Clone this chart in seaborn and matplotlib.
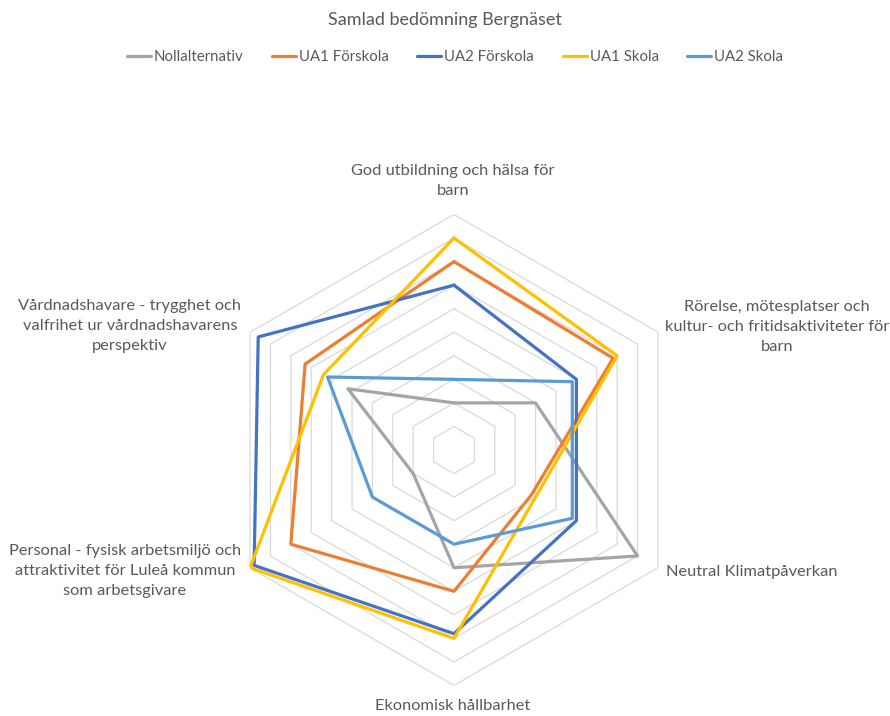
import numpy as np
import pandas as pd
import matplotlib
matplotlib.use("Agg")
import matplotlib.pyplot as plt
import seaborn as sns

# criteria, clockwise from the top
categories = [
    "God utbildning och hälsa för\nbarn",
    "Rörelse, mötesplatser och\nkultur- och fritidsaktiviteter för\nbarn",
    "Neutral Klimatpåverkan",
    "Ekonomisk hållbarhet",
    "Personal - fysisk arbetsmiljö och\nattraktivitet för Luleå kommun\nsom arbetsgivare",
    "Vårdnadshavare - trygghet och\nvalfrihet ur vårdnadshavarens\nperspektiv",
]

series_names = ["Nollalternativ", "UA1 Förskola", "UA2 Förskola", "UA1 Skola", "UA2 Skola"]
nollalternativ = [2, 4, 9, 5, 2, 5.2]
ua1_forskola = [8, 7.8, 3.8, 6, 8, 7.3]
ua2_forskola = [7, 6, 6, 7.8, 9.8, 9.6]
ua1_skola = [9, 8, 4, 8, 10, 6.4]
ua2_skola = [3, 5.8, 5.8, 4, 4, 6.2]
colors = ["#A5A5A5", "#ED7D31", "#4472C4", "#FFC000", "#5B9BD5"]

rings = list(range(1, 11))

text_color = "#595959"

sns.set_theme(style="white")
plt.rcParams["font.family"] = ["Lato", "DejaVu Sans"]

n = len(categories)
angles = np.linspace(0, 2 * np.pi, n, endpoint=False)
closed = np.append(angles, 2 * np.pi)

rows = []
for name, vals in zip(series_names, [nollalternativ, ua1_forskola, ua2_forskola, ua1_skola, ua2_skola]):
    vals = list(vals) + [vals[0]]
    for th, v in zip(closed, vals):
        rows.append({"theta": th, "value": v, "serie": name})
df = pd.DataFrame(rows)

fig = plt.figure(figsize=(8.9, 7.16), dpi=100)
W, H = 890, 716
cx, cy, R = 454, 450, 235.5
ax = fig.add_axes([(cx - R) / W, (H - cy - R) / H, 2 * R / W, 2 * R / H], projection="polar")
ax.set_theta_offset(np.pi / 2)
ax.set_theta_direction(-1)
ax.set_ylim(0, 10)
ax.grid(False)
ax.spines["polar"].set_visible(False)
ax.set_xticks([])
ax.set_yticks([])
ax.set_facecolor("none")

# hexagonal gridlines
for r in rings:
    ax.plot(closed, [r] * len(closed), color="#D9D9D9", lw=0.9, zorder=1)

sns.lineplot(
    data=df,
    x="theta",
    y="value",
    hue="serie",
    palette=colors,
    sort=False,
    estimator=None,
    linewidth=2.3,
    ax=ax,
    legend=False,
)
ax.set_xlabel("")
ax.set_ylabel("")

fig.text(0.5, 1 - 20 / H, "Samlad bedömning Bergnäset", ha="center", va="center",
         fontsize=13, color=text_color)

handles = [plt.Line2D([], [], color=c, lw=2.3) for c in colors]
fig.legend(handles, series_names, loc="center", bbox_to_anchor=(455 / W, 1 - 57 / H),
           ncol=5, frameon=False, fontsize=10.8, handlelength=1.6, handletextpad=0.2,
           columnspacing=1.9, labelcolor=text_color)

label_pos = [
    (453, 181, "center"),
    (777, 327, "center"),
    (666, 572, "left"),
    (453, 706, "center"),
    (125, 571, "center"),
    (130, 326, "center"),
]
for label, (x, y, ha) in zip(categories, label_pos):
    fig.text(x / W, 1 - y / H, label, ha=ha, va="center", multialignment="center",
             fontsize=11.8, color=text_color, linespacing=1.55)

fig.savefig("out.png", dpi=100, facecolor="white")
